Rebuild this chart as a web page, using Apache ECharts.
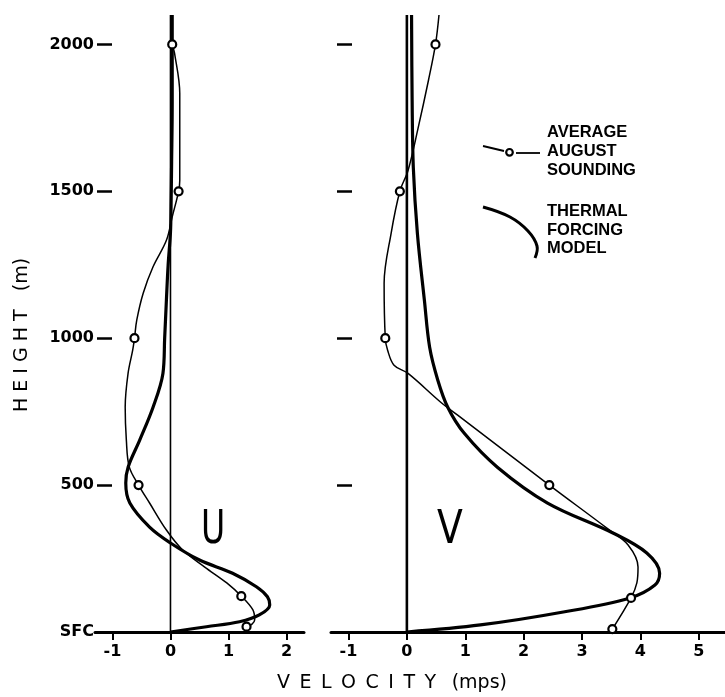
<!DOCTYPE html>
<html>
<head>
<meta charset="utf-8">
<script src="https://cdn.jsdelivr.net/npm/echarts@6/dist/echarts.min.js"></script>
<style>
  html, body { margin: 0; padding: 0; background: #fff; }
  #chart { width: 725px; height: 697px; }
</style>
</head>
<body>
<div id="chart"></div>
<script>
// ---- tick values / labels ----
const heightTicks = [0, 500, 1000, 1500, 2000];
const heightLabels = ['SFC', '500', '1000', '1500', '2000'];
const uTicks = [-1, 0, 1, 2];
const vTicks = [-1, 0, 1, 2, 3, 4, 5];

// ---- U component: [velocity (mps), height (m)] ----
const uObserved = [[1.31, 18], [1.22, 122], [-0.55, 500], [-0.62, 1000], [0.14, 1500], [0.03, 2000]];
const uSoundingCurve = [
  [0.03, 2000], [0.07, 1970], [0.16, 1833], [0.16, 1697], [0.16, 1537], [0.14, 1500],
  [0.03, 1413], [-0.07, 1333], [-0.30, 1243], [-0.47, 1153], [-0.58, 1062], [-0.62, 1000],
  [-0.65, 960], [-0.73, 881], [-0.78, 766], [-0.76, 653], [-0.71, 562], [-0.55, 500],
  [-0.36, 439], [-0.07, 347], [0.21, 279], [0.59, 221], [0.97, 167], [1.22, 122],
  [1.42, 75], [1.45, 41], [1.40, 26], [1.31, 18]
];
const uModel = [
  [0.03, 2100], [0.03, 2000], [0.03, 1800], [0.02, 1600], [0.01, 1450], [0.0, 1360],
  [-0.04, 1250], [-0.07, 1130], [-0.10, 1000], [-0.13, 880], [-0.30, 765], [-0.53, 653],
  [-0.73, 561], [-0.77, 507], [-0.70, 439], [-0.36, 357], [0.0, 303], [0.50, 245],
  [1.07, 200], [1.48, 154], [1.67, 120], [1.71, 92], [1.53, 58], [1.19, 35], [0.62, 18], [0, 0]
];

// ---- V component: [velocity (mps), height (m)] ----
const vObserved = [[3.52, 10], [3.84, 116], [2.44, 500], [-0.37, 1000], [-0.12, 1500], [0.49, 2000]];
const vSoundingCurve = [
  [0.55, 2100], [0.49, 2000], [0.37, 1878], [0.19, 1713], [0.02, 1571], [-0.12, 1500],
  [-0.27, 1357], [-0.39, 1187], [-0.37, 1000], [-0.33, 959], [-0.22, 908], [0.02, 880],
  [0.58, 782], [0.87, 738], [2.44, 500], [3.45, 350], [3.79, 296], [3.96, 221],
  [3.94, 167], [3.84, 116], [3.52, 10]
];
const vModel = [
  [0.08, 2100], [0.09, 1810], [0.11, 1582], [0.18, 1357], [0.30, 1129], [0.39, 969],
  [0.53, 857], [0.70, 765], [0.98, 677], [1.55, 561], [2.41, 439], [3.53, 337],
  [4.11, 269], [4.33, 200], [4.25, 160], [3.82, 116], [2.68, 68], [1.26, 24], [0, 0]
];

const zeroLine = [[0, 0], [0, 2100]];

const labelFont = { fontFamily: 'DejaVu Sans', fontWeight: 'bold', fontSize: 16, color: '#000' };

function xAxisFor(gridIndex, min, max, ticks) {
  return {
    type: 'value', gridIndex, min, max,
    axisLine: { onZero: false, lineStyle: { color: '#000', width: 3 } },
    axisTick: { customValues: ticks, length: 8, lineStyle: { color: '#000', width: 2 } },
    axisLabel: Object.assign({ customValues: ticks, margin: 12, formatter: v => String(v) }, labelFont),
    splitLine: { show: false }
  };
}
function yAxisFor(gridIndex, offset, showLabels) {
  return {
    type: 'value', gridIndex, min: 0, max: 2100, offset,
    axisLine: { show: false, onZero: false },
    axisTick: { inside: true, customValues: heightTicks, length: 15, lineStyle: { color: '#000', width: 2.5 } },
    axisLabel: Object.assign({
      show: showLabels, customValues: heightTicks, margin: 3,
      formatter: v => heightLabels[heightTicks.indexOf(v)]
    }, labelFont),
    splitLine: { show: false }
  };
}

const thin = { color: '#000', width: 1.5 };
const thick = { color: '#000', width: 3.2 };

function curve(data, xi, style) {
  return { type: 'line', xAxisIndex: xi, yAxisIndex: xi, data, smooth: 0.35, showSymbol: false, symbol: 'none',
           lineStyle: style, silent: true, z: 3 };
}
function obs(data, xi) {
  return { type: 'scatter', xAxisIndex: xi, yAxisIndex: xi, data, symbol: 'circle', symbolSize: 8,
           itemStyle: { color: '#fff', borderColor: '#000', borderWidth: 2.2, opacity: 1 }, silent: true, z: 5 };
}

const option = {
  animation: false,
  backgroundColor: '#fff',
  grid: [
    { left: 95, top: 15, width: 209, height: 617, outerBoundsMode: 'none' },
    { left: 331, top: 15, width: 394, height: 617, outerBoundsMode: 'none' }
  ],
  xAxis: [xAxisFor(0, -1.3, 2.3, uTicks), xAxisFor(1, -1.3, 5.45, vTicks)],
  yAxis: [yAxisFor(0, -2, true), yAxisFor(1, -6, false)],
  series: [
    { type: 'line', xAxisIndex: 0, yAxisIndex: 0, data: zeroLine, symbol: 'none', lineStyle: { color: '#000', width: 1.6 }, silent: true, z: 2 },
    { type: 'line', xAxisIndex: 1, yAxisIndex: 1, data: zeroLine, symbol: 'none', lineStyle: { color: '#000', width: 2.6 }, silent: true, z: 2 },
    curve(uModel, 0, thick),
    curve(uSoundingCurve, 0, thin),
    obs(uObserved, 0),
    curve(vModel, 1, thick),
    curve(vSoundingCurve, 1, thin),
    obs(vObserved, 1)
  ],
  graphic: [
    { type: 'text', x: 392, y: 683, style: { text: 'V\u2002E\u2002L\u2002O\u2002C\u2002I\u2002T\u2002Y\u2002 (mps)', font: '19px "DejaVu Sans"', fill: '#000', align: 'center', verticalAlign: 'middle' } },
    { type: 'text', x: 22, y: 335, rotation: Math.PI / 2, style: { text: 'H E I G H T   (m)', font: '19px "DejaVu Sans"', fill: '#000', align: 'center', verticalAlign: 'middle' } },
    { type: 'text', x: 213, y: 531, scaleX: 0.72, style: { text: 'U', font: '46px "DejaVu Sans"', fill: '#000', align: 'center', verticalAlign: 'middle' } },
    { type: 'text', x: 450, y: 531, scaleX: 0.82, style: { text: 'V', font: '46px "DejaVu Sans"', fill: '#000', align: 'center', verticalAlign: 'middle' } },
    // legend
    { type: 'polyline', shape: { points: [[483, 146], [504, 151]] }, style: { stroke: '#000', lineWidth: 1.8, fill: null } },
    { type: 'polyline', shape: { points: [[516, 153], [540, 153]] }, style: { stroke: '#000', lineWidth: 1.8, fill: null } },
    { type: 'circle', shape: { cx: 509.5, cy: 152.3, r: 3.3 }, style: { stroke: '#000', lineWidth: 2.2, fill: '#fff' } },
    { type: 'text', x: 547, y: 151, style: { text: 'AVERAGE\nAUGUST\nSOUNDING', font: 'bold 16.5px "Liberation Sans"', lineHeight: 19, fill: '#000', align: 'left', verticalAlign: 'middle' } },
    { type: 'polyline', shape: { points: [[483, 207], [510, 217], [528, 231], [537, 246], [535, 258]], smooth: 0.4 }, style: { stroke: '#000', lineWidth: 3, fill: null } },
    { type: 'text', x: 547, y: 230, style: { text: 'THERMAL\nFORCING\nMODEL', font: 'bold 16.5px "Liberation Sans"', lineHeight: 18.5, fill: '#000', align: 'left', verticalAlign: 'middle' } }
  ]
};

const chart = echarts.init(document.getElementById('chart'), null, { renderer: 'canvas' });
chart.setOption(option);
</script>
</body>
</html>
